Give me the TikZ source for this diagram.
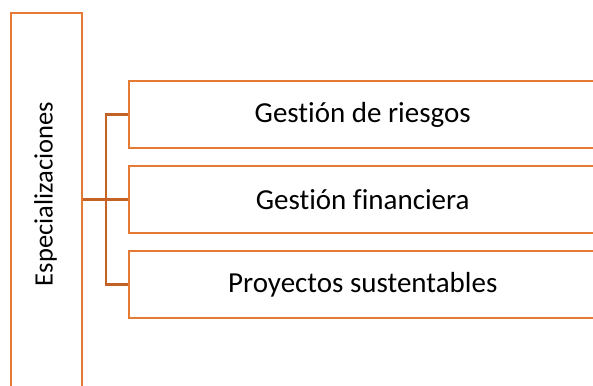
\documentclass[tikz,border=0pt]{standalone}
\usepackage{fontspec}
\setmainfont{Carlito}[Ligatures={NoCommon}]
\usetikzlibrary{calc}
\definecolor{boxline}{RGB}{228,122,52}
\definecolor{busline}{RGB}{196,98,38}
\tikzset{
  area/.style={draw=boxline,line width=2pt,rectangle,minimum width=468.5pt,minimum height=67pt,inner sep=0pt,font=\fontsize{29}{33}\selectfont},
  conn/.style={draw=busline,line width=2.2pt}
}

\begin{document}
\begin{tikzpicture}[x=1pt,y=-1pt]
\path[use as bounding box,clip] (0,0) rectangle (593,385);
\fill[white] (0,0) rectangle (593,385);
\node[draw=boxline,line width=2pt,rectangle,minimum width=71pt,minimum height=390pt,anchor=north west] (SP) at (10,12) {};
\node[rotate=90,font=\fontsize{26.5}{30}\selectfont] (SPT) at (45.5,194) {Especializaciones};
\node[area] (GR) at (362.75,114.5) {Gestión de riesgos};
\node[area] (GF) at (362.75,199.5) {Gestión financiera};
\node[area] (PS) at (362.75,284.5) {Proyectos sustentables};
\coordinate (BUS) at (105.7,0);
\draw[conn] (SP.east |- GF.west) -- (GF.west);
\draw[conn] (GR.west) -- (BUS |- GR.west) -- (BUS |- PS.west) -- (PS.west);
\end{tikzpicture}
\end{document}
